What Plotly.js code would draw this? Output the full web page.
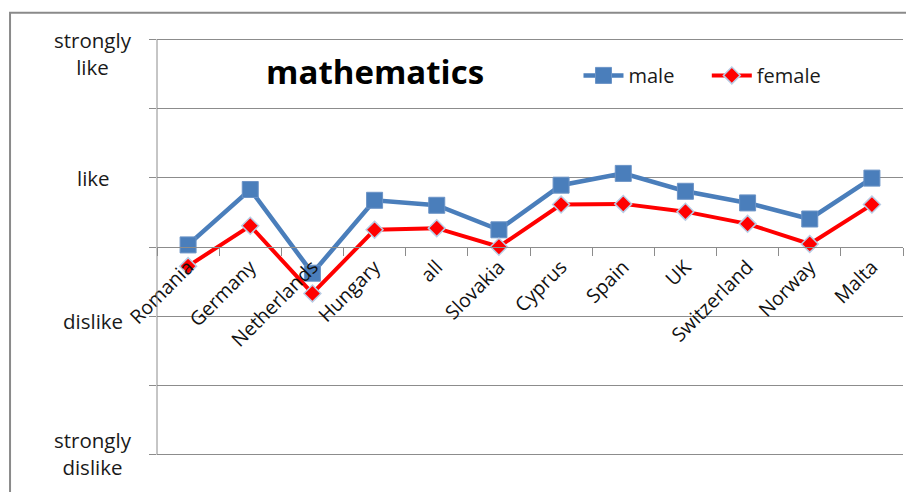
<!DOCTYPE html>
<html>
<head>
<meta charset="utf-8">
<script src="https://cdn.plot.ly/plotly-3.0.1.min.js"></script>
<style>
  html, body { margin: 0; padding: 0; background: #ffffff; }
  #chart { width: 906px; height: 492px; }
</style>
</head>
<body>
<div id="chart"></div>
<script>
// Attitude towards mathematics by country, 1 = strongly dislike ... 4 = strongly like
const countries = ['Romania', 'Germany', 'Netherlands', 'Hungary', 'all', 'Slovakia',
                   'Cyprus', 'Spain', 'UK', 'Switzerland', 'Norway', 'Malta'];
const maleScores   = [2.515, 2.915, 2.311, 2.837, 2.801, 2.624, 2.946, 3.031, 2.902, 2.818, 2.702, 2.997];
const femaleScores = [2.362, 2.653, 2.165, 2.624, 2.636, 2.502, 2.806, 2.811, 2.755, 2.667, 2.522, 2.806];

// Scale labels shown beside the value axis
const scaleValues = [4, 3, 2, 1];
const scaleLabels = ['strongly<br>like', 'like', 'dislike', 'strongly<br>dislike'];

const FONT = 'Open Sans, Noto Sans, sans-serif';
const GRID = '#8c8c8c';

const traces = [
  {
    x: countries, y: maleScores, name: 'male', type: 'scatter', mode: 'lines+markers',
    legend: 'legend',
    line: { color: '#4A7EBB', width: 4.5 },
    marker: { symbol: 'square', size: 16, color: '#4A7EBB', line: { color: '#6b93c6', width: 1 } }
  },
  {
    x: countries, y: femaleScores, name: 'female', type: 'scatter', mode: 'lines+markers',
    legend: 'legend2',
    line: { color: '#FF0000', width: 4 },
    marker: { symbol: 'diamond', size: 13, color: '#FF0000', line: { color: '#b9cde5', width: 1.5 } }
  }
];

// Value-axis labels, centred beside the plot (pixel nudges per label)
const scaleShift = { 4: -14, 3: 0, 2: -5, 1: 1 };
const annotations = scaleValues.map((v, i) => ({
  xref: 'paper', yref: 'y', x: 0, y: v, xshift: -64, yshift: scaleShift[v],
  text: scaleLabels[i], showarrow: false, xanchor: 'center', yanchor: 'middle', align: 'center',
  font: { family: FONT, size: 20.5, color: '#1a1a1a' }
}));

const legendStyle = {
  orientation: 'h', xanchor: 'left', y: 0.955, yanchor: 'top',
  font: { family: FONT, size: 20, color: '#1a1a1a' }, bgcolor: 'rgba(0,0,0,0)',
  itemwidth: 40
};

const layout = {
  width: 906, height: 492,
  margin: { l: 157, r: 3, t: 37, b: 35 },
  paper_bgcolor: '#ffffff', plot_bgcolor: '#ffffff',
  font: { family: FONT, size: 20, color: '#111111' },
  title: {
    text: '<b>mathematics</b>', xref: 'container', yref: 'container',
    x: 0.414, xanchor: 'center', y: 0.852, yanchor: 'middle',
    font: { family: FONT, size: 33, color: '#000000' }
  },
  showlegend: true,
  legend: Object.assign({}, legendStyle, { x: 0.565 }),
  legend2: Object.assign({}, legendStyle, { x: 0.737 }),
  xaxis: {
    type: 'category', range: [-0.5, countries.length - 0.5],
    anchor: 'free', position: 0.5,
    showline: true, linecolor: GRID, linewidth: 1,
    ticks: 'outside', tickson: 'boundaries', ticklen: 8, tickcolor: GRID, tickwidth: 1,
    tickangle: -45, tickfont: { family: FONT, size: 19.5, color: '#111111' },
    showgrid: false, zeroline: false, fixedrange: true
  },
  yaxis: {
    range: [0.985, 4.015], dtick: 0.5, tick0: 1,
    showgrid: true, gridcolor: GRID, gridwidth: 1,
    showline: false,
    ticks: 'outside', ticklen: 7, tickcolor: GRID,
    showticklabels: false, zeroline: false, fixedrange: true
  },
  annotations: annotations,
  shapes: [
    // value-axis line spanning the full scale
    { type: 'line', xref: 'paper', yref: 'y', x0: 0, x1: 0, y0: 1, y1: 4,
      line: { color: GRID, width: 1 } },
    // chart-area frame
    { type: 'rect', xref: 'paper', yref: 'paper', x0: -0.197, x1: 1.2, y0: -0.3, y1: 1.058,
      line: { color: '#8a8a8a', width: 2 }, fillcolor: 'rgba(0,0,0,0)', layer: 'below' }
  ]
};

Plotly.newPlot('chart', traces, layout, { displayModeBar: false, staticPlot: true });
</script>
</body>
</html>
